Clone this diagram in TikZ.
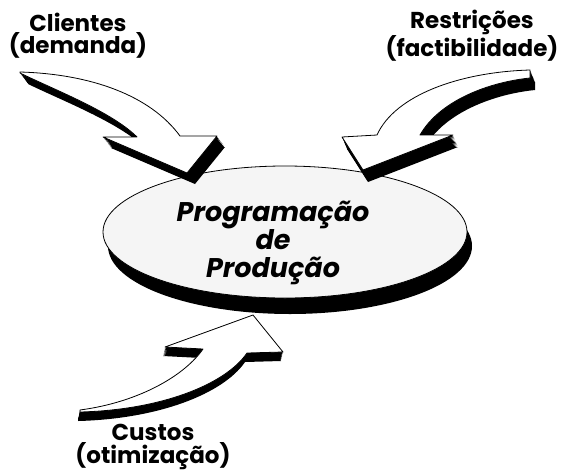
\documentclass[tikz,border=0pt]{standalone}
\usepackage{fontspec}
\setmainfont{Poppins}
\usetikzlibrary{positioning}

\begin{document}
\begin{tikzpicture}[
            x=1pt, y=-1pt,
            face/.style={fill=white, draw=black, line width=0.8pt, line join=round},
            depth/.style={fill=black},
            label/.style={align=center, font=\bfseries\fontsize{23}{21}\selectfont},
            title/.style={align=center, font=\bfseries\itshape\fontsize{27}{28}\selectfont}
        ]
        \useasboundingbox (0,0) rectangle (561,471);
        \def\clientesarrow{(20,72) .. controls (90,74) and (150,95) .. (180,136) -- (217,136) -- (187,173) -- (103,137) -- (137,137) .. controls (112,112) and (55,90) .. (20,73) -- cycle}
        \def\restricoesarrow{(530,70) .. controls (460,72) and (395,95) .. (377,135) -- (342,137) -- (363,170) -- (453,135) -- (420,135) .. controls (440,100) and (490,82) .. (530,78) -- cycle}
        \def\custosarrow{(80,410) .. controls (140,402) and (185,375) .. (203,349) -- (165,347) -- (253,315) -- (283,352) -- (247,353) .. controls (225,385) and (160,410) .. (80,412) -- cycle}

        % ellipse with its dark rim
        \fill[depth] (290,246) ellipse [x radius=182pt, y radius=68pt];
        \filldraw[face, fill=gray!8] (285,232) ellipse [x radius=182pt, y radius=66pt];
        \node[title] (prog) at (273,243) {Programação\\de\\Produção};

        % arrows: stacked black copies give the depth
        \foreach \k in {1,...,10} {
            \fill[depth, shift={(0.8*\k,1.1*\k)}] \clientesarrow;
            \fill[depth, shift={(0.5*\k,1.2*\k)}] \restricoesarrow;
            \fill[depth, shift={(-0.2*\k,0.9*\k)}] \custosarrow;
        }
        \filldraw[face] \clientesarrow;
        \filldraw[face] \restricoesarrow;
        \filldraw[face] \custosarrow;

        \node[label] (clientes) at (78,36) {Clientes\\(demanda)};
        \node[label] (restricoes) at (472,36) {Restrições\\(factibilidade)};
        \node[label] (custos) at (153,447) {Custos\\(otimização)};
    \end{tikzpicture}
\end{document}
